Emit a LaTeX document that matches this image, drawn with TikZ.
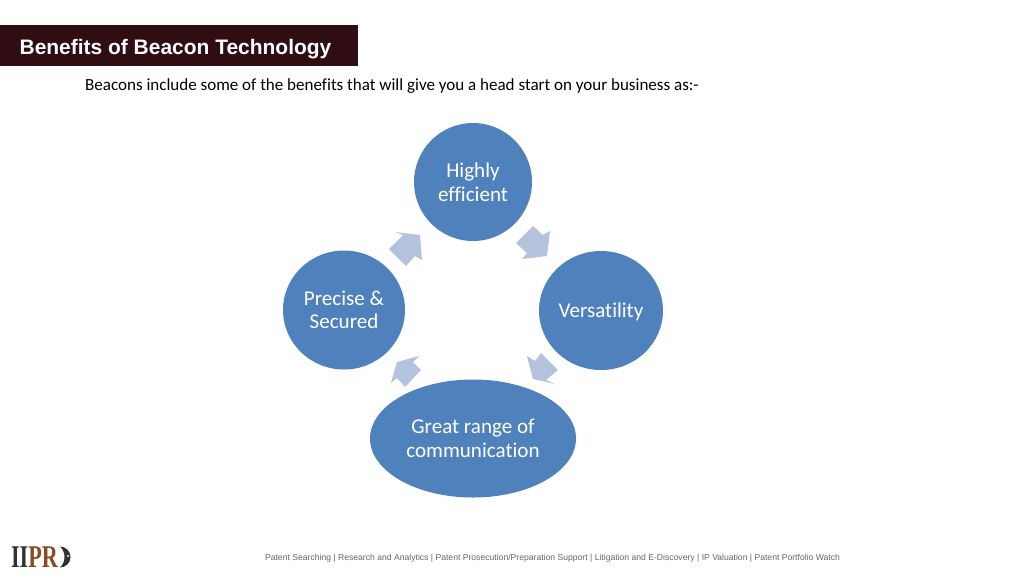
\documentclass[tikz,border=0pt]{standalone}
\usepackage{fontspec}
\setmainfont[Ligatures=NoCommon]{Carlito}
\newfontfamily\headfont{Liberation Sans}
\newfontfamily\logofont{Liberation Serif}
\usetikzlibrary{positioning, shapes.geometric}
\definecolor{titlebrown}{HTML}{2F0D12}
\definecolor{bubbleblue}{HTML}{4F81BD}
\definecolor{arrowblue}{HTML}{B3C2DD}
\definecolor{logobrown}{HTML}{8A4B1F}
\definecolor{logodark}{HTML}{33302E}
\tikzset{
    bubble/.style={ellipse, fill=bubbleblue, inner sep=0pt, text=white, align=center,
        font=\fontsize{12pt}{13.4pt}\selectfont},
    blockarrow/.style={fill=arrowblue}
}
\begin{document}
\begin{tikzpicture}[x=.02cm, y=-.02cm]
\useasboundingbox (0,0) rectangle (1024,576);
% heading
\fill[titlebrown] (0,25) rectangle (358,66);
\node (title) at (175.5,49.5) {\headfont\bfseries\fontsize{11.93pt}{15pt}\selectfont\color{white} Benefits of Beacon Technology};
\node (intro) at (392,86.5) {\fontsize{9.69pt}{12pt}\selectfont Beacons include some of the benefits that will give you a head start on your business as:-};
% the four bubbles
\node (efficient) at (473,182) [bubble, minimum width=118*.02cm, minimum height=118*.02cm] {Highly\\efficient};
\node (versatility) at (601,310.5) [bubble, minimum width=124*.02cm, minimum height=119*.02cm] {Versatility\rule{0pt}{9.5pt}};
\node (range) at (473,438.5) [bubble, minimum width=206*.02cm, minimum height=118*.02cm] {Great range of\\communication};
\node (secured) at (344,310) [bubble, minimum width=122*.02cm, minimum height=119*.02cm] {Precise \&\\Secured};
% block arrows
\fill[blockarrow] (533,226)--(543,235)--(550,231)--(547,256)--(522,259)--(527,253)--(516,243)--cycle;
\fill[blockarrow] (541,353)--(558,370)--(546,380)--(555,384)--(533,379)--(527,356)--(535,361)--cycle;
\fill[blockarrow] (413,362)--(421,370)--(405,387)--(397,378)--(391,383)--(397,362)--(419,356)--cycle;
\fill[blockarrow] (403,235)--(395,232)--(420,235)--(422,260)--(415,256)--(406,266)--(389,249)--cycle;
% footer
\node (footer) at (552.5,558) {\headfont\fontsize{4.9pt}{6pt}\selectfont\color{black!60} Patent Searching | Research and Analytics | Patent Prosecution/Preparation Support | Litigation and E-Discovery | IP Valuation | Patent Portfolio Watch};
\node (logo) at (34.5,557) [inner sep=0pt] {\scalebox{.7}[1]{\logofont\bfseries\fontsize{18pt}{18pt}\selectfont\color{logodark}II\color{logobrown}PR}};
\fill[logodark] (60,546.5) arc (-90:90:10.5) .. controls (66,562) and (66,552) .. cycle;
\fill[white] (68,556) circle (1.2);
\end{tikzpicture}
\end{document}
